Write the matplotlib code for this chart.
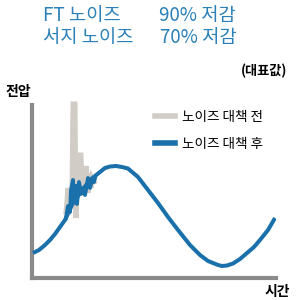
import matplotlib

matplotlib.use("Agg")
import matplotlib.pyplot as plt

plt.rcParams["font.family"] = ["Noto Sans CJK KR", "DejaVu Sans"]

# smooth signal (time, voltage)
signal_t = [1, 7, 13, 18, 23, 28, 33, 40, 48, 58, 68, 73, 78, 84, 90, 96, 106,
            116, 126, 136, 146, 158, 168, 176, 181, 186, 190, 195, 201, 208,
            215, 222, 228, 236, 243]
signal_v = [25, 28, 33, 38, 44, 51, 58, 73, 85, 98, 106, 110, 111.5, 112, 111,
            109.5, 101, 88, 75, 61, 48, 33, 23, 17, 15, 13, 12, 12.5, 14.5, 19,
            25, 31, 38, 48, 60]

# noise before countermeasure (grey)
before_t = [34, 36, 37, 38, 40, 41, 43, 44, 45, 46, 48, 49, 50, 51, 53, 54, 56, 57, 59, 60, 62]
before_v = [66, 90, 72, 82, 90, 174, 174, 60, 95, 85, 123, 123, 92, 110, 100, 112, 85, 105, 90, 100, 96]

# noise after countermeasure (blue)
after_t = [34, 36, 38, 39, 41, 42, 44, 45, 47, 49, 51, 53, 55, 56, 58, 60, 62, 63]
after_v = [60, 72, 66, 88, 98, 78, 92, 74, 96, 84, 90, 83, 94, 100, 90, 98, 96, 100]

BLUE = "#1a70aa"
GREY = "#d2ccc7"
AXIS = "#8a8a8a"

fig = plt.figure(figsize=(3, 3), dpi=100)
ax = fig.add_axes([32 / 300, 22 / 300, 244 / 300, 173 / 300])

ax.plot(before_t, before_v, color=GREY, lw=3.6, solid_joinstyle="miter",
        clip_on=False, label="노이즈 대책 전", zorder=2)
ax.plot(signal_t, signal_v, color=BLUE, lw=2.9, solid_capstyle="butt", zorder=3)
ax.plot(after_t, after_v, color=BLUE, lw=2.8, clip_on=False,
        label="노이즈 대책 후", zorder=4)

ax.set_xlim(0, 244)
ax.set_ylim(0, 173)
ax.set_xticks([])
ax.set_yticks([])
for side in ("top", "right"):
    ax.spines[side].set_visible(False)
for side in ("left", "bottom"):
    ax.spines[side].set_color(AXIS)
    ax.spines[side].set_linewidth(3)
    ax.spines[side].set_capstyle("projecting")

leg = ax.legend(loc="upper left", bbox_to_anchor=(155 / 300, 1 - 110 / 300),
                bbox_transform=fig.transFigure, frameon=False, fontsize=9.8,
                handlelength=1.45, handletextpad=0.55, labelspacing=0.95,
                borderpad=0, borderaxespad=0)
for h in leg.get_lines():
    h.set_linewidth(4)

# headline
fig.text(43 / 300, 1 - 15 / 300, "FT 노이즈", color="#2a80b9", fontsize=13.5, va="center")
fig.text(159 / 300, 1 - 15 / 300, "90% 저감", color="#2a80b9", fontsize=13.5, va="center")
fig.text(43 / 300, 1 - 38 / 300, "서지 노이즈", color="#2a80b9", fontsize=13.5, va="center")
fig.text(160 / 300, 1 - 38 / 300, "70% 저감", color="#2a80b9", fontsize=13.5, va="center")

fig.text(287 / 300, 1 - 71 / 300, "(대표값)", fontsize=9.5, fontweight="bold",
         ha="right", va="center")
fig.text(5 / 300, 1 - 92 / 300, "전압", fontsize=10, fontweight="bold", va="center")
fig.text(290 / 300, 1 - 292 / 300, "시간", fontsize=10, fontweight="bold",
         ha="right", va="center")

fig.savefig("out.png", dpi=100)
